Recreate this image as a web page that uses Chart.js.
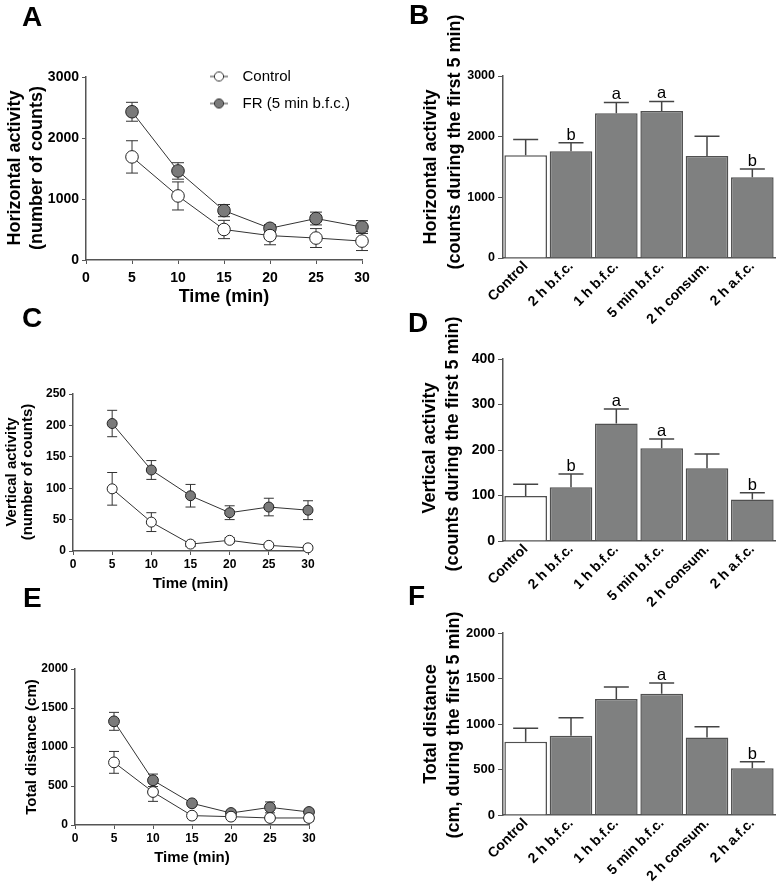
<!DOCTYPE html>
<html><head><meta charset="utf-8">
<script src="https://cdn.jsdelivr.net/npm/chart.js@4.4.0/dist/chart.umd.min.js"></script>
<style>
html,body{margin:0;padding:0;background:#fff;}
body{width:781px;height:892px;position:relative;overflow:hidden;}
canvas{position:absolute;}
.letter{position:absolute;font:bold 28px/28px "Liberation Sans",Arial,sans-serif;color:#000;}
</style></head><body>
<canvas id="cA" width="390" height="310" style="left:0;top:0"></canvas>
<canvas id="cC" width="390" height="300" style="left:0;top:300px"></canvas>
<canvas id="cE" width="390" height="302" style="left:0;top:590px"></canvas>
<canvas id="cF" width="391" height="302" style="left:390px;top:590px"></canvas>
<canvas id="cD" width="391" height="340" style="left:390px;top:300px"></canvas>
<canvas id="cB" width="391" height="340" style="left:390px;top:0"></canvas>
<div class="letter" style="left:22px;top:3px">A</div>
<div class="letter" style="left:409px;top:1px">B</div>
<div class="letter" style="left:22px;top:304px">C</div>
<div class="letter" style="left:408px;top:309px">D</div>
<div class="letter" style="left:23px;top:584px">E</div>
<div class="letter" style="left:408px;top:582px">F</div>
<script>
// ---------------- data ----------------
const timeMin = [5, 10, 15, 20, 25, 30];
const groups = ['Control', '2 h b.f.c.', '1 h b.f.c.', '5 min b.f.c.', '2 h consum.', '2 h a.f.c.'];

const horizCtrl    = [1690, 1050, 500, 400, 360, 310];
const horizCtrlSem = [265, 230, 150, 150, 155, 155];
const horizFR      = [2430, 1460, 810, 520, 680, 540];
const horizFRSem   = [155, 135, 100, 60, 105, 105];
const horizFirst5    = [1695, 1760, 2385, 2425, 1680, 1330];
const horizFirst5Sem = [260, 140, 180, 155, 325, 135];
const horizLetters   = ['', 'b', 'a', 'a', '', 'b'];

const vertCtrl    = [99, 46, 11, 17, 9, 5];
const vertCtrlSem = [26, 15, 4, 4, 3, 3];
const vertFR      = [203, 129, 88, 61, 70, 65];
const vertFRSem   = [21, 15, 18, 11, 14, 15];
const vertFirst5    = [99, 118, 258, 204, 160, 91];
const vertFirst5Sem = [26, 29, 32, 20, 31, 15];
const vertLetters   = ['', 'b', 'a', 'a', '', 'b'];

const distCtrl    = [803, 423, 120, 107, 90, 90];
const distCtrlSem = [140, 120, 30, 30, 25, 40];
const distFR      = [1329, 573, 278, 154, 226, 167];
const distFRSem   = [115, 80, 30, 30, 70, 30];
const distFirst5    = [806, 872, 1275, 1333, 853, 513];
const distFirst5Sem = [146, 198, 132, 118, 118, 73];
const distLetters   = ['', '', '', 'a', '', 'b'];

// ---------------- styling ----------------
const FONT = '"Liberation Sans", Arial, sans-serif';
const AXIS = '#555555';
const LINE = '#333333';
const FR_FILL = '#7a7a7a';
const BAR_FILL = '#7f8080';

// ---------------- plugins ----------------
function drawErrors(chart, o) {
  const ctx = chart.ctx, ys = chart.scales.y;
  chart.data.datasets.forEach((ds, di) => {
    if (!ds.sem) return;
    const meta = chart.getDatasetMeta(di);
    meta.data.forEach((el, i) => {
      const v = o.mode === 'bar' ? ds.data[i] : ds.data[i].y;
      const x = el.x;
      const top = ys.getPixelForValue(v + ds.sem[i]);
      const bot = o.mode === 'bar' ? ys.getPixelForValue(v) : ys.getPixelForValue(v - ds.sem[i]);
      ctx.save();
      ctx.strokeStyle = o.color; ctx.lineWidth = o.width;
      ctx.beginPath();
      ctx.moveTo(x, top); ctx.lineTo(x, bot);
      ctx.moveTo(x - o.cap, top); ctx.lineTo(x + o.cap, top);
      if (o.mode === 'line') { ctx.moveTo(x - o.cap, bot); ctx.lineTo(x + o.cap, bot); }
      ctx.stroke();
      if (ds.letters && ds.letters[i]) {
        ctx.fillStyle = '#000';
        ctx.font = '16.5px ' + FONT;
        ctx.textAlign = 'center'; ctx.textBaseline = 'alphabetic';
        ctx.fillText(ds.letters[i], x, top - 3);
      }
      ctx.restore();
    });
  });
}
const errorBars = {
  id: 'errorBars',
  beforeDatasetsDraw(chart, args, o) { if (o && o.mode === 'line') drawErrors(chart, o); },
  afterDatasetsDraw(chart, args, o) { if (o && o.mode === 'bar') drawErrors(chart, o); }
};
const yTitle = {
  id: 'yTitle',
  afterDraw(chart, args, o) {
    if (!o || !o.lines) return;
    const ctx = chart.ctx;
    ctx.save();
    ctx.fillStyle = '#000';
    ctx.font = 'bold ' + o.size + 'px ' + FONT;
    ctx.textAlign = 'center'; ctx.textBaseline = 'middle';
    o.lines.forEach(l => {
      ctx.save(); ctx.translate(l.x, l.y); ctx.rotate(-Math.PI / 2);
      ctx.fillText(l.text, 0, 0); ctx.restore();
    });
    ctx.restore();
  }
};
const legendPlacer = {
  id: 'legendPlacer',
  afterLayout(chart, args, o) {
    const lg = chart.legend;
    if (!lg || !o || o.x == null) return;
    const w = lg.width, h = lg.height;
    lg.left = o.x; lg.top = o.y; lg.right = o.x + w; lg.bottom = o.y + h;
  }
};
Chart.register(errorBars, yTitle, legendPlacer);

function makeMarker(fill) {
  const c = document.createElement('canvas');
  c.width = 18; c.height = 12;
  const g = c.getContext('2d');
  g.strokeStyle = LINE; g.lineWidth = 1;
  g.beginPath(); g.moveTo(0, 6); g.lineTo(18, 6); g.stroke();
  g.beginPath(); g.arc(9, 6, 4.6, 0, Math.PI * 2);
  g.fillStyle = fill; g.fill(); g.stroke();
  return c;
}

function tickFont(size) { return { family: FONT, size: size, weight: 'bold' }; }

// ---------------- line panels ----------------
function makeLine(id, p) {
  const mk = (arr) => timeMin.map((t, i) => ({ x: t, y: arr[i] }));
  return new Chart(document.getElementById(id), {
    type: 'line',
    data: {
      datasets: [
        { label: 'Control', data: mk(p.ctrl), sem: p.ctrlSem, borderColor: LINE, borderWidth: 1, clip: false,
          pointRadius: p.r, pointBackgroundColor: '#ffffff', pointBorderColor: '#222', pointBorderWidth: 1 },
        { label: 'FR (5 min b.f.c.)', data: mk(p.fr), sem: p.frSem, borderColor: LINE, borderWidth: 1, clip: false,
          pointRadius: p.r, pointBackgroundColor: FR_FILL, pointBorderColor: '#222', pointBorderWidth: 1 }
      ]
    },
    options: {
      responsive: false, animation: false, devicePixelRatio: 1, events: [],
      layout: { padding: p.pad },
      plugins: {
        tooltip: { enabled: false },
        legend: p.legend ? {
          display: true, position: 'chartArea', align: 'start',
          labels: {
            usePointStyle: true, pointStyleWidth: 32, padding: 12, color: '#000',
            font: { family: FONT, size: 15 },
            generateLabels(chart) {
              return chart.data.datasets.map((ds, i) => ({
                text: ds.label, datasetIndex: i, hidden: false, lineWidth: 0,
                pointStyle: makeMarker(ds.pointBackgroundColor), fontColor: '#000'
              }));
            }
          }
        } : { display: false },
        legendPlacer: p.legend ? { x: 191, y: 57 } : {},
        errorBars: { mode: 'line', cap: p.cap, color: LINE, width: 1 },
        yTitle: { size: p.ySize, lines: p.yLines }
      },
      scales: {
        x: {
          type: 'linear', min: 0, max: 30,
          ticks: { stepSize: 5, color: '#000', font: tickFont(p.tick), padding: p.xPad, maxRotation: 0, autoSkip: false,
                   callback: v => String(v) },
          grid: { display: true, drawOnChartArea: false, drawTicks: true, tickLength: 4, color: AXIS },
          border: { display: true, color: AXIS, width: 1.5 },
          title: { display: true, text: 'Time (min)', color: '#000', font: tickFont(p.xTitle),
                   padding: { top: 0, bottom: p.xTitlePad } },
          afterFit(s) { s.height = p.xH; }
        },
        y: {
          min: 0, max: p.yMax,
          ticks: { stepSize: p.yStep, color: '#000', font: tickFont(p.tick), padding: 3, callback: v => String(v) },
          grid: { display: true, drawOnChartArea: false, drawTicks: true, tickLength: 4, color: AXIS },
          border: { display: true, color: AXIS, width: 1.5 },
          afterFit(s) { s.width = p.yW; }
        }
      }
    }
  });
}

// ---------------- bar panels ----------------
function makeBar(id, p) {
  return new Chart(document.getElementById(id), {
    type: 'bar',
    data: {
      labels: groups,
      datasets: [{
        data: p.vals, sem: p.sem, letters: p.letters,
        backgroundColor: groups.map((g, i) => i === 0 ? '#ffffff' : BAR_FILL),
        borderColor: '#505050', borderWidth: 1.5,
        categoryPercentage: 1, barPercentage: 0.94
      }]
    },
    options: {
      responsive: false, animation: false, devicePixelRatio: 1, events: [],
      layout: { padding: p.pad },
      plugins: {
        tooltip: { enabled: false }, legend: { display: false },
        errorBars: { mode: 'bar', cap: 12.5, color: '#444', width: 1.5 },
        yTitle: { size: 18, lines: p.yLines }
      },
      scales: {
        x: {
          ticks: { color: '#000', font: tickFont(14), minRotation: 45, maxRotation: 45, padding: -8, autoSkip: false },
          grid: { display: false },
          border: { display: true, color: AXIS, width: 1.5 },
          afterFit(s) { s.height = p.xH; }
        },
        y: {
          min: 0, max: p.yMax,
          ticks: { stepSize: p.yStep, color: '#000', font: tickFont(p.tick), padding: 3, callback: v => String(v) },
          grid: { display: true, drawOnChartArea: false, drawTicks: true, tickLength: 5, color: AXIS },
          border: { display: true, color: AXIS, width: 1.5 },
          afterFit(s) { s.width = 113; }
        }
      }
    }
  });
}

makeLine('cA', {
  ctrl: horizCtrl, ctrlSem: horizCtrlSem, fr: horizFR, frSem: horizFRSem,
  r: 6.3, cap: 6, tick: 14, xPad: 6, xTitle: 18, xTitlePad: 2, xH: 50, yW: 86,
  yMax: 3000, yStep: 1000, legend: true,
  pad: { left: 0, top: 77, right: 28, bottom: 0 },
  ySize: 18, yLines: [{ text: 'Horizontal activity', x: 15, y: 168 }, { text: '(number of counts)', x: 37, y: 168 }]
});
makeBar('cB', {
  vals: horizFirst5, sem: horizFirst5Sem, letters: horizLetters,
  yMax: 3000, yStep: 1000, tick: 12.5, xH: 82,
  pad: { left: 0, top: 76, right: 6, bottom: 0 },
  yLines: [{ text: 'Horizontal activity', x: 41, y: 167 }, { text: '(counts during the first 5 min)', x: 65, y: 142 }]
});
makeLine('cC', {
  ctrl: vertCtrl, ctrlSem: vertCtrlSem, fr: vertFR, frSem: vertFRSem,
  r: 5, cap: 5, tick: 12, xPad: 2, xTitle: 15, xTitlePad: 7, xH: 49, yW: 73,
  yMax: 250, yStep: 50, legend: false,
  pad: { left: 0, top: 94, right: 82, bottom: 0 },
  ySize: 15, yLines: [{ text: 'Vertical activity', x: 12, y: 172 }, { text: '(number of counts)', x: 28, y: 172 }]
});
makeBar('cD', {
  vals: vertFirst5, sem: vertFirst5Sem, letters: vertLetters,
  yMax: 400, yStep: 100, tick: 14, xH: 99,
  pad: { left: 0, top: 59, right: 6, bottom: 0 },
  yLines: [{ text: 'Vertical activity', x: 40, y: 148 }, { text: '(counts during the first 5 min)', x: 63, y: 144 }]
});
makeLine('cE', {
  ctrl: distCtrl, ctrlSem: distCtrlSem, fr: distFR, frSem: distFRSem,
  r: 5.4, cap: 5, tick: 12, xPad: 2, xTitle: 15, xTitlePad: 3, xH: 45, yW: 75,
  yMax: 2000, yStep: 500, legend: false,
  pad: { left: 0, top: 79, right: 81, bottom: 22 },
  ySize: 15, yLines: [{ text: 'Total distance (cm)', x: 32, y: 157 }]
});
makeBar('cF', {
  vals: distFirst5, sem: distFirst5Sem, letters: distLetters,
  yMax: 2000, yStep: 500, tick: 13, xH: 77,
  pad: { left: 0, top: 43, right: 6, bottom: 0 },
  yLines: [{ text: 'Total distance', x: 41, y: 134 }, { text: '(cm, during the first 5 min)', x: 64, y: 135 }]
});
</script>
</body></html>
